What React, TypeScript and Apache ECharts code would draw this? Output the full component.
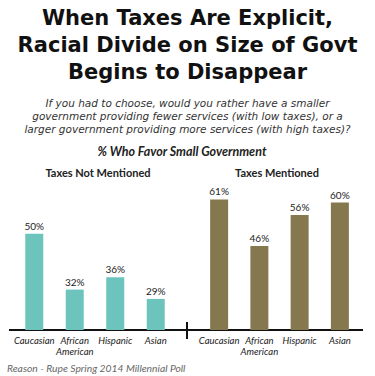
import React, { useEffect, useRef } from "react";
import * as echarts from "echarts";

const categories = ["Caucasian", "African\nAmerican", "Hispanic", "Asian"];
const notMentioned = [50, 32, 36, 29];
const mentioned = [61, 46, 56, 60];
const titleLines = ["When Taxes Are Explicit,", "Racial Divide on Size of Govt", "Begins to Disappear"];
const subtitleLines = [
  "If you had to choose, would you rather have a smaller",
  "government providing fewer services (with low taxes), or a",
  "larger government providing more services (with high taxes)?",
];
const chartLabel = "% Who Favor Small Government";
const panelTitles = ["Taxes Not Mentioned", "Taxes Mentioned"];
const source = "Reason - Rupe Spring 2014 Millennial Poll";

const FONT = "Lato, 'Open Sans', sans-serif";
const WIDE = "'DejaVu Sans', 'Open Sans', sans-serif";

export default function App() {
  const ref = useRef<HTMLDivElement>(null);
  useEffect(() => {
    const chart = echarts.init(ref.current!, null, { renderer: "svg" });
    const xAxisCommon = {
      type: "category" as const,
      data: categories,
      axisLine: { show: false },
      axisTick: { show: false },
      axisLabel: {
        interval: 0,
        fontStyle: "italic",
        fontSize: 9.5,
        color: "#222",
        fontFamily: FONT,
        margin: 5,
        lineHeight: 11,
      },
    };
    const yAxisCommon = { type: "value" as const, min: 19, max: 65, show: false, splitLine: { show: false } };
    const labelCommon = {
      show: true,
      position: "top" as const,
      formatter: "{c}%",
      fontSize: 10,
      color: "#222",
      fontFamily: FONT,
      distance: 3,
    };
    const graphics: any[] = [];
    titleLines.forEach((t, i) => {
      graphics.push({
        type: "text",
        x: 187.5,
        y: 17.5 + i * 27,
        style: {
          text: t,
          font: `bold 21px ${WIDE}`,
          fill: "#111",
          textAlign: "center",
          textVerticalAlign: "middle",
        },
      });
    });
    subtitleLines.forEach((t, i) => {
      graphics.push({
        type: "text",
        x: 187.5,
        y: 103 + i * 13,
        style: {
          text: t,
          font: `italic 10.5px ${WIDE}`,
          fill: "#333",
          textAlign: "center",
          textVerticalAlign: "middle",
        },
      });
    });
    graphics.push({
      type: "text",
      x: 182,
      y: 151,
      style: {
        text: chartLabel,
        font: `italic bold 12.5px ${FONT}`,
        fill: "#222",
        textAlign: "center",
        textVerticalAlign: "middle",
      },
    });
    [98, 277].forEach((cx, i) => {
      graphics.push({
        type: "text",
        x: cx,
        y: 172,
        style: {
          text: panelTitles[i],
          font: `bold 11px ${FONT}`,
          fill: "#222",
          textAlign: "center",
          textVerticalAlign: "middle",
        },
      });
    });
    graphics.push({
      type: "line",
      shape: { x1: 9, y1: 330, x2: 363, y2: 330 },
      style: { stroke: "#111", lineWidth: 2 },
    });
    graphics.push({
      type: "line",
      shape: { x1: 187, y1: 322, x2: 187, y2: 339 },
      style: { stroke: "#111", lineWidth: 2 },
    });
    graphics.push({
      type: "text",
      x: 7,
      y: 368,
      style: {
        text: source,
        font: `italic 10.3px ${FONT}`,
        fill: "#666",
        textAlign: "left",
        textVerticalAlign: "middle",
      },
    });

    chart.setOption({
      animation: false,
      grid: [
        { left: 14, width: 162, top: 187, bottom: 46 },
        { left: 199, width: 161, top: 187, bottom: 46 },
      ],
      xAxis: [
        { ...xAxisCommon, gridIndex: 0 },
        { ...xAxisCommon, gridIndex: 1 },
      ],
      yAxis: [
        { ...yAxisCommon, gridIndex: 0 },
        { ...yAxisCommon, gridIndex: 1 },
      ],
      series: [
        {
          type: "bar",
          xAxisIndex: 0,
          yAxisIndex: 0,
          data: notMentioned,
          barWidth: 18,
          itemStyle: { color: "#6cc4bc" },
          label: labelCommon,
        },
        {
          type: "bar",
          xAxisIndex: 1,
          yAxisIndex: 1,
          data: mentioned,
          barWidth: 18,
          itemStyle: { color: "#85784f" },
          label: labelCommon,
        },
      ],
      graphic: graphics,
    });
    return () => chart.dispose();
  }, []);
  return (
    <div
      ref={ref}
      style={{ position: "fixed", left: 0, top: 0, width: 375, height: 376, background: "#fff" }}
    />
  );
}
